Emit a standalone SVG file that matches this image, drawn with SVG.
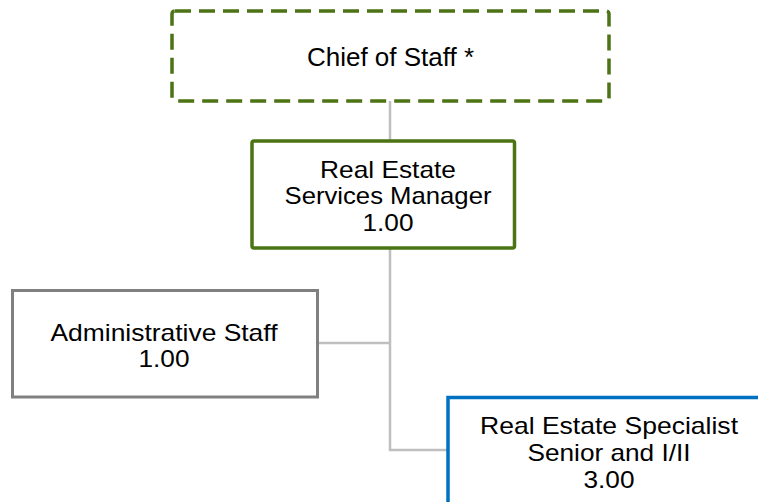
<svg xmlns="http://www.w3.org/2000/svg" width="758" height="502" viewBox="0 0 758 502">
<style>
  text { font-family: "Liberation Sans", Arial, sans-serif; font-size: 24px; fill: #000; text-anchor: middle; }
  .title { font-size: 26px; }
  .box { fill: #fff; stroke-width: 3.5; }
  .green { stroke: #4C7314; }
  .dashed { stroke-dasharray: 16 8; }
  .gray { stroke: #808080; stroke-width: 3; }
  .blue { stroke: #0070C0; }
  .conn { fill: none; stroke: #BFBFBF; stroke-width: 2.5; }
</style>
<rect width="758" height="502" fill="#fff"/>
<g id="connectors">
  <line class="conn" x1="390" y1="101" x2="390" y2="141"/>
  <polyline class="conn" points="390,248 390,450 447,450"/>
  <line class="conn" x1="318" y1="343" x2="390" y2="343"/>
</g>
<g id="chief-of-staff">
  <rect class="box green dashed" x="172" y="11" width="437" height="90" rx="3"/>
  <text class="title" x="390.5" y="66">Chief of Staff *</text>
</g>
<g id="real-estate-services-manager">
  <rect class="box green" x="252" y="141" width="262.5" height="107" rx="2"/>
  <text x="388" y="177.5" textLength="136" lengthAdjust="spacingAndGlyphs">Real Estate</text>
  <text x="388" y="204.3" textLength="207" lengthAdjust="spacingAndGlyphs">Services Manager</text>
  <text x="388" y="231.1" textLength="51" lengthAdjust="spacingAndGlyphs">1.00</text>
</g>
<g id="administrative-staff">
  <rect class="box gray" x="12.5" y="290.5" width="305" height="106.5"/>
  <text x="164" y="340.5" textLength="227" lengthAdjust="spacingAndGlyphs">Administrative Staff</text>
  <text x="164" y="367.3" textLength="51" lengthAdjust="spacingAndGlyphs">1.00</text>
</g>
<g id="real-estate-specialist">
  <rect class="box blue" x="448" y="397.5" width="330" height="120"/>
  <text x="609" y="434" textLength="258" lengthAdjust="spacingAndGlyphs">Real Estate Specialist</text>
  <text x="609" y="460.8" textLength="163" lengthAdjust="spacingAndGlyphs">Senior and I/II</text>
  <text x="609" y="487.6" textLength="51" lengthAdjust="spacingAndGlyphs">3.00</text>
</g>
</svg>
